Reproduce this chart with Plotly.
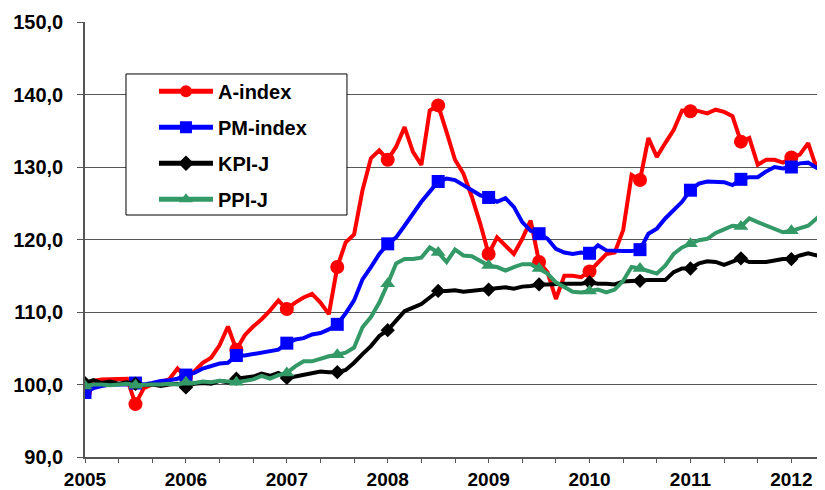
import plotly.graph_objects as go

start_year = 2005
series_names = ["A-index", "PM-index", "KPI-J", "PPI-J"]

a_index = [99.0, 100.5, 100.7, 100.7, 100.7, 100.8, 97.3, 99.5, 100.0, 100.3, 100.7, 102.2,
           101.0, 101.8, 103.0, 103.7, 105.4, 108.0, 104.8, 106.8, 108.0, 109.0, 110.2, 111.6,
           110.4, 111.3, 112.0, 112.5, 111.3, 109.7, 116.2, 119.6, 120.7, 126.8, 131.2, 132.3,
           131.0, 132.8, 135.5, 132.1, 130.3, 137.8, 138.5, 134.8, 131.0, 129.1, 125.9, 122.2,
           118.0, 120.3, 119.2, 118.0, 120.1, 122.6, 116.9, 115.5, 111.8, 115.0, 115.0, 114.8,
           115.6, 116.9, 118.0, 118.2, 121.3, 128.9, 128.2, 134.0, 131.4, 133.3, 135.1, 137.8,
           137.7, 137.7, 137.4, 137.9, 137.6, 137.0, 133.5, 134.0, 130.3, 131.0, 131.0, 130.6,
           131.3, 131.7, 133.3, 129.8, 133.4]

pm_index = [98.9, 99.5, 99.8, 100.0, 100.0, 100.0, 100.2, 100.0, 100.2, 100.5, 100.6, 100.8,
            101.3, 101.6, 102.2, 102.6, 102.9, 103.0, 104.0, 104.0, 104.2, 104.4, 104.7, 104.8,
            105.7, 106.2, 106.4, 106.9, 107.1, 107.6, 108.3, 109.8, 111.6, 114.5, 116.2, 118.0,
            119.4, 120.3, 121.9, 123.6, 125.2, 126.6, 128.0, 128.4, 128.2, 127.5, 126.8, 126.1,
            125.8, 125.2, 125.7, 124.5, 122.4, 121.2, 120.8, 120.1, 118.7, 118.2, 118.0, 118.2,
            118.1, 119.2, 118.5, 118.4, 118.4, 118.4, 118.6, 120.8, 121.5, 122.9, 124.0, 125.2,
            126.8, 127.7, 128.0, 128.0, 127.9, 127.5, 128.3, 128.6, 128.6, 129.4, 130.0, 129.8,
            130.0, 130.5, 130.6, 129.9, 130.3]

kpi_j = [100.2, 100.6, 100.2, 100.4, 100.1, 100.3, 100.1, 99.9, 100.0, 99.8, 100.0, 100.1,
         99.6, 100.1, 100.2, 100.1, 100.5, 100.3, 100.8, 100.9, 101.1, 101.5, 101.2, 101.6,
         100.9, 101.1, 101.3, 101.6, 101.8, 101.7, 101.7, 102.0, 103.0, 104.2, 105.3, 106.7,
         107.5, 108.8, 110.1, 110.6, 111.1, 112.0, 112.9, 112.9, 113.0, 112.8, 112.9, 113.0,
         113.1, 113.3, 113.4, 113.2, 113.5, 113.6, 113.8, 113.8, 113.9, 113.9, 113.9, 113.9,
         114.1, 113.9, 113.9, 113.8, 114.2, 114.3, 114.3, 114.4, 114.4, 114.4, 115.5, 116.0,
         116.0, 116.7, 117.0, 116.9, 116.5, 117.0, 117.4, 116.9, 116.9, 116.9, 117.1, 117.3,
         117.3, 117.8, 118.1, 117.8, 118.2]

ppi_j = [99.8, 100.0, 100.0, 99.9, 100.0, 100.1, 99.9, 100.0, 100.0, 100.0, 100.1, 100.0,
         100.3, 100.2, 100.4, 100.3, 100.5, 100.4, 100.3, 100.5, 100.7, 101.2, 100.8, 101.3,
         101.6, 102.5, 103.2, 103.2, 103.6, 103.9, 104.1, 104.4, 105.1, 107.9, 109.3, 111.3,
         113.9, 116.7, 117.3, 117.3, 117.5, 118.9, 118.2, 116.9, 118.6, 117.8, 117.7, 117.1,
         116.4, 116.2, 115.7, 116.2, 116.6, 116.6, 116.0, 115.3, 114.1, 113.4, 112.8, 112.7,
         112.9, 113.1, 112.7, 113.1, 114.3, 116.2, 116.0, 115.7, 115.3, 116.4, 118.0, 118.9,
         119.4, 119.9, 120.1, 120.9, 121.4, 121.9, 121.8, 122.9, 122.4, 121.9, 121.5, 121.0,
         121.2, 121.5, 121.9, 122.9, 123.8]

n = len(a_index)
x_vals = [start_year + i / 12 for i in range(n)]

colors = ["#FF0000", "#0000FF", "#000000", "#339966"]
symbols = ["circle", "square", "diamond", "triangle-up"]
msizes = [14, 13, 11, 13]
all_series = [a_index, pm_index, kpi_j, ppi_j]

FONT = "Arial, 'Liberation Sans', sans-serif"
FS = 20

fig = go.Figure()
for name, vals, col, sym, ms in zip(series_names, all_series, colors, symbols, msizes):
    fig.add_trace(go.Scatter(
        x=x_vals, y=vals, name=name, mode="lines+markers",
        line=dict(color=col, width=4),
        marker=dict(symbol=sym, color=col, opacity=1,
                    size=[ms if i % 6 == 0 else 0 for i in range(n)],
                    line=dict(width=0)),
        legendgroup=name,
    ))

tick_vals = [start_year + k / 3 for k in range(int((n - 1) / 4) + 1)]
tick_text = [str(start_year + k // 3) if k % 3 == 0 else "" for k in range(len(tick_vals))]

# legend frame (white box drawn over the plot, native legend entries on top)
fig.add_shape(type="rect", xref="paper", yref="paper",
              x0=0.0554, x1=0.354, y0=0.5563, y1=0.8805,
              fillcolor="white", line=dict(color="black", width=1), layer="above")

fig.update_layout(
    template="none",
    width=817, height=482,
    margin=dict(l=77, r=0, t=14, b=33, autoexpand=False),
    paper_bgcolor="white", plot_bgcolor="white",
    separators=",.",
    font=dict(family=FONT, size=FS, color="black", weight="bold"),
    showlegend=True,
    legend=dict(
        x=0.0932, y=0.8858, xanchor="left", yanchor="top",
        bgcolor="rgba(0,0,0,0)", borderwidth=0,
        font=dict(family=FONT, size=FS, color="black", weight="bold"),
        tracegroupgap=7, itemsizing="constant", itemwidth=54,
    ),
    xaxis=dict(
        range=[start_year, x_vals[-1]], automargin=False,
        tickmode="array", tickvals=tick_vals, ticktext=tick_text,
        ticks="outside", ticklen=4, tickcolor="#555555", tickwidth=1,
        showline=True, linecolor="#555555", linewidth=1.5,
        showgrid=False, zeroline=False, ticklabelstandoff=0,
        tickfont=dict(family=FONT, size=19, color="black", weight="bold"),
    ),
    yaxis=dict(
        range=[90, 150], dtick=10, tick0=90, tickformat=".1f", automargin=False,
        ticks="outside", ticklen=6, tickcolor="#555555", tickwidth=1,
        showline=True, linecolor="#555555", linewidth=1.5,
        showgrid=True, gridcolor="#555555", gridwidth=1,
        zeroline=False, ticklabelstandoff=10,
        tickfont=dict(family=FONT, size=FS, color="black", weight="bold"),
    ),
)

fig.write_html("out.html")
